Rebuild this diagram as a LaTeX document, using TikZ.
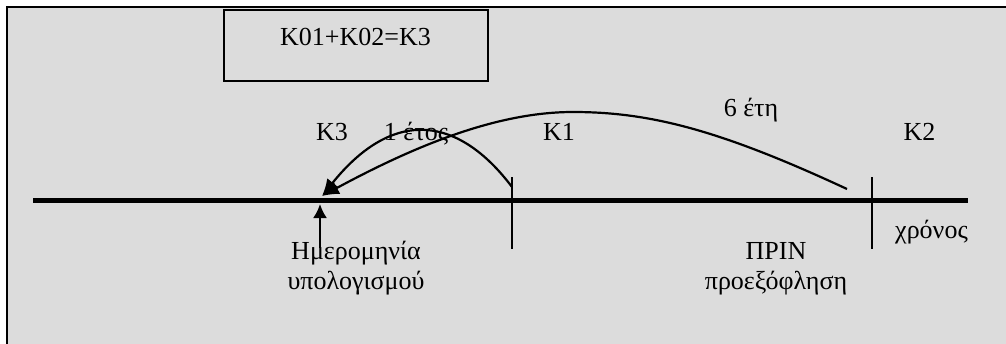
\documentclass[tikz,border=0pt]{standalone}
\usepackage{fontspec}
\setmainfont{Liberation Serif}
\usetikzlibrary{arrows.meta}
\definecolor{bg}{RGB}{220,220,220}
\tikzset{
  lbl/.style={anchor=base, inner sep=0pt, font=\fontsize{26}{32}\selectfont},
  axis/.style={line width=5pt},
  tick/.style={line width=1.6pt},
  curve/.style={line width=2.2pt, -{Latex[length=17pt,width=14pt]}},
  uparrow/.style={line width=2.2pt, -{Latex[length=14pt,width=14pt]}}
}
\begin{document}
\begin{tikzpicture}[x=1pt,y=-1pt]
\useasboundingbox (0,0) rectangle (1006,343);
% background and outer frame
\fill[bg] (7,7) rectangle (1010,350);
\draw[line width=2.4pt] (7,350) -- (7,7) -- (1010,7);
% formula box
\draw[line width=1.9pt] (224,10) rectangle (488,81);
\node[lbl] (formula) at (355.5,45) {K01+K02=K3};
% axis
\coordinate (axL) at (33,200.5);
\coordinate (axR) at (968,200.5);
\draw[axis] (axL) -- (axR);
% ticks
\coordinate (t1top) at (512,177);
\coordinate (t1bot) at (512,249);
\coordinate (t2top) at (872,177);
\coordinate (t2bot) at (872,249);
\draw[tick] (t1top) -- (t1bot);
\draw[tick] (t2top) -- (t2bot);
% curve endpoints
\coordinate (s1) at (512,187);
\coordinate (s2) at (847,189);
\coordinate (peak) at (573,112);
\coordinate (tip) at (322,196);
\draw[curve] (s1) .. controls (460,118) and (395,105) .. (tip);
\draw[curve] (s2) .. controls (720,130) and (650,112) .. (peak)
  .. controls (500,112) and (420,143) .. (tip);
% up arrow
\coordinate (ubot) at (320,248);
\coordinate (utop) at (320,204);
\draw[uparrow] (ubot) -- (utop);
% labels
\node[lbl] (k3) at (332,140) {K3};
\node[lbl] (y1) at (416,140) {1 έτος};
\node[lbl] (k1) at (559,140) {K1};
\node[lbl] (y6) at (751,116) {6 έτη};
\node[lbl] (k2) at (919.5,140) {K2};
\node[lbl] (time) at (931.5,238) {χρόνος};
\node[lbl] (prin) at (776,259) {ΠΡΙΝ};
\node[lbl] (proe) at (776,289) {προεξόφληση};
\node[lbl] (date1) at (356,259) {Ημερομηνία};
\node[lbl] (date2) at (356,289) {υπολογισμού};
\end{tikzpicture}
\end{document}
